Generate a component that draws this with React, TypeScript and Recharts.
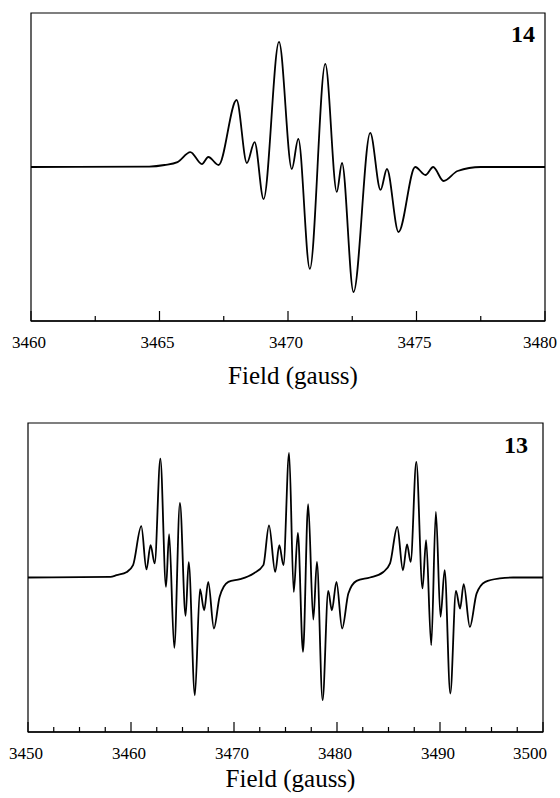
import { LineChart, Line, XAxis, YAxis, ReferenceArea } from "recharts";

// spectrum 14 (3460-3480 G)
const field14 = [
  3460, 3464.6, 3465.2, 3465.7, 3466.2, 3466.65, 3466.9, 3467.3, 3468.0, 3468.4,
  3468.7, 3469.05, 3469.65, 3470.15, 3470.4, 3470.85, 3471.45, 3471.9, 3472.1, 3472.55,
  3473.2, 3473.6, 3473.85, 3474.3, 3474.95, 3475.35, 3475.65, 3476.05, 3476.6, 3477.5, 3480,
];
const signal14 = [
  0, 0.3, 1.3, 3.2, 9.7, 1.9, 6.5, 1.3, 43.5, 2.6,
  16.2, -20.8, 81.2, -1.3, 18.2, -66.2, 66.9, -16.2, 2.6, -81.2,
  22.1, -14.9, -1.3, -42.2, 0, -5.2, 0, -9.1, -2.6, 0, 0,
];
const ticks14 = [3460, 3462.5, 3465, 3467.5, 3470, 3472.5, 3475, 3477.5, 3480];

// spectrum 13 (3450-3500 G)
const field13 = [
  3450, 3458, 3458.6, 3459.6, 3460.2, 3461.0, 3461.5, 3461.9, 3462.3, 3462.85,
  3463.4, 3463.7, 3464.2, 3464.75, 3465.3, 3465.6, 3466.2, 3466.7, 3467.1, 3467.5,
  3468.05, 3468.6, 3469.45, 3470.6, 3471.9, 3472.85, 3473.4, 3474.0, 3474.4, 3474.8,
  3475.35, 3475.8, 3476.2, 3476.7, 3477.2, 3477.7, 3478.05, 3478.6, 3479.15, 3479.5,
  3479.95, 3480.5, 3481.1, 3481.9, 3483.2, 3484.5, 3485.15, 3485.85, 3486.4, 3486.8,
  3487.15, 3487.7, 3488.3, 3488.65, 3489.15, 3489.6, 3490.05, 3490.45, 3491.0, 3491.55,
  3491.95, 3492.3, 3492.9, 3493.55, 3494.4, 3495.8, 3497.1, 3500,
];
const signal13 = [
  0, 0.4, 1.5, 3.6, 8.0, 33.2, 5.2, 20.9, 9.1, 77.0,
  -6.1, 28.0, -45.5, 48.3, -24.8, 9.9, -76.3, -7.6, -21.2, -2.8,
  -33.0, -12.6, -2.8, -1.1, 2.6, 8.0, 33.8, 3.6, 20.9, 8.0,
  80.6, -9.3, 28.9, -48.1, 47.4, -27.2, 10.1, -79.4, -8.7, -21.2,
  -2.8, -33.0, -10.4, -2.2, 0, 3.6, 9.1, 32.7, 4.7, 21.5,
  10.1, 74.8, -7.1, 24.1, -43.8, 42.4, -25.5, 4.7, -75.1, -8.7,
  -20.1, -4.3, -32.0, -10.4, -2.8, -0.6, 0, 0,
];
const ticks13 = [
  3450, 3452.5, 3455, 3457.5, 3460, 3462.5, 3465, 3467.5, 3470, 3472.5, 3475,
  3477.5, 3480, 3482.5, 3485, 3487.5, 3490, 3492.5, 3495, 3497.5, 3500,
];

const FONT = "'Liberation Serif', 'Times New Roman', serif";

function FieldTick(props: any) {
  const { x, y, payload, every, max, endPad } = props;
  const v = payload.value;
  const major = v % every === 0;
  const last = v === max;
  return (
    <g>
      <line x1={x} x2={x} y1={y} y2={y - (major ? 10 : 5)} stroke="#000" strokeWidth={1.2} />
      {major && (
        <text
          x={last ? x + endPad : x - 2}
          y={y + 27}
          textAnchor={last ? "end" : "middle"}
          fontSize={17}
          fontFamily={FONT}
          fill="#000"
        >
          {v}
        </text>
      )}
    </g>
  );
}

function Spectrum(props: any) {
  const { fields, signals, ticks, every, tag, height, margin, axisHeight, titleDy, tagRight, tagDy, endPad } = props;
  const data = fields.map((f: number, i: number) => ({ field: f, signal: signals[i] }));
  const lo = ticks[0];
  const hi = ticks[ticks.length - 1];
  return (
    <LineChart width={560} height={height} data={data} margin={margin}>
      <XAxis
        dataKey="field"
        type="number"
        domain={[lo, hi]}
        ticks={ticks}
        interval={0}
        tickSize={0}
        tickMargin={0}
        tickLine={false}
        height={axisHeight}
        axisLine={{ stroke: "#000", strokeWidth: 1.5 }}
        tick={(p: any) => <FieldTick {...p} every={every} max={hi} endPad={endPad} />}
        label={(p: any) => {
          const vb = p.viewBox;
          return (
            <text
              x={vb.x + vb.width / 2 + 5}
              y={vb.y + titleDy}
              textAnchor="middle"
              fontSize={25}
              fontFamily={FONT}
              fill="#000"
            >
              Field (gauss)
            </text>
          );
        }}
      />
      <YAxis hide domain={[-100, 100]} type="number" />
      <ReferenceArea
        x1={lo}
        x2={hi}
        y1={-100}
        y2={100}
        fill="none"
        stroke="#000"
        strokeWidth={1.2}
        label={(p: any) => {
          const vb = p.viewBox;
          return (
            <text
              x={vb.x + vb.width - tagRight}
              y={vb.y + tagDy}
              textAnchor="end"
              fontSize={24}
              fontWeight="bold"
              fontFamily={FONT}
              fill="#000"
            >
              {tag}
            </text>
          );
        }}
      />
      <Line
        dataKey="signal"
        type="monotone"
        stroke="#000"
        strokeWidth={1.8}
        dot={false}
        isAnimationActive={false}
      />
    </LineChart>
  );
}

export default function App() {
  return (
    <div style={{ position: "absolute", left: 0, top: 0, width: 560, height: 798, background: "#fff" }}>
      <div style={{ position: "absolute", left: 0, top: 0 }}>
        <Spectrum
          fields={field14}
          signals={signal14}
          ticks={ticks14}
          every={5}
          tag="14"
          height={400}
          margin={{ top: 13, right: 15, left: 31, bottom: 0 }}
          axisHeight={79}
          titleDy={63}
          tagRight={10}
          tagDy={29}
          endPad={12}
        />
      </div>
      <div style={{ position: "absolute", left: 0, top: 400 }}>
        <Spectrum
          fields={field13}
          signals={signal13}
          ticks={ticks13}
          every={10}
          tag="13"
          height={398}
          margin={{ top: 23, right: 17, left: 28, bottom: 0 }}
          axisHeight={66}
          titleDy={55}
          tagRight={15}
          tagDy={30}
          endPad={4}
        />
      </div>
    </div>
  );
}
